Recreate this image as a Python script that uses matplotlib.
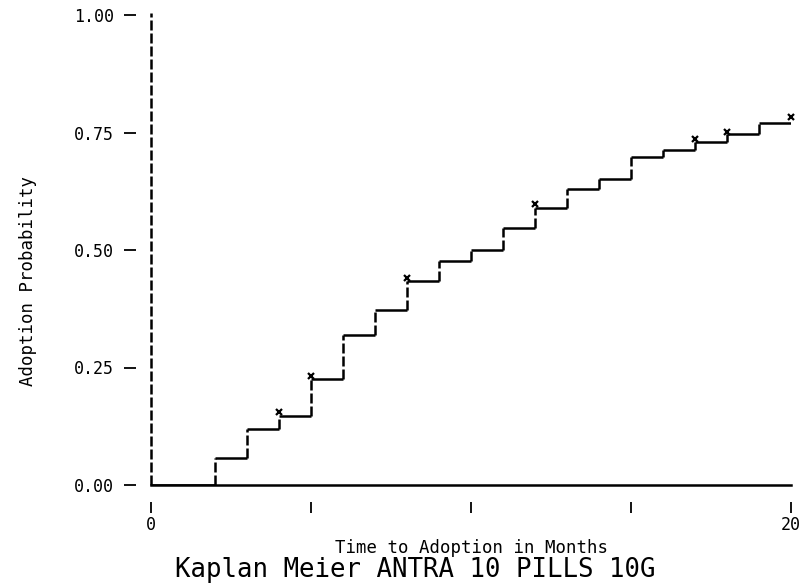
import numpy as np
import matplotlib
matplotlib.use("Agg")
import matplotlib.pyplot as plt

# step data (month, cumulative adoption probability)
times = [0, 2, 3, 4, 5, 6, 7, 8, 9, 10, 11, 12, 13, 14, 15, 16, 17, 18, 19, 20]
adopt = [0.0, 0.058, 0.120, 0.147, 0.225, 0.320, 0.372, 0.434, 0.477, 0.500,
         0.547, 0.589, 0.630, 0.651, 0.698, 0.713, 0.730, 0.747, 0.770]
# censored observations
cens_t = [4, 5, 8, 12, 17, 18, 20]
cens_y = [0.156, 0.232, 0.440, 0.598, 0.737, 0.752, 0.783]

y_ticks = [0.0, 0.25, 0.5, 0.75, 1.0]
y_labels = ["0.00", "0.25", "0.50", "0.75", "1.00"]
x_ticks = [0, 5, 10, 15, 20]
x_labels = ["0", "", "", "", "20"]

plt.rcParams['font.family'] = ['DejaVu Sans Mono']

fig = plt.figure(figsize=(8.05, 5.88), dpi=100)
ax = fig.add_axes([151 / 805, 1 - 485 / 588, 640 / 805, 470 / 588])
ax.set_xlim(0, 20)
ax.set_ylim(0, 1)

# horizontal parts solid, risers dashed like the old plotter output
ax.hlines(adopt, times[:-1], times[1:], colors='black', lw=1.8)
ax.vlines(times[1:-1], adopt[:-1], adopt[1:], colors='black', lw=1.8,
          linestyles=(0, (4, 1.2)))
ax.plot(cens_t, cens_y, ls='none', marker='x', ms=5, mew=1.6, color='black',
        clip_on=False)

# axis lines
ax.axvline(0, ymin=0, ymax=1.005, color='black', lw=1.8, ls=(0, (4, 1.2)), clip_on=False)
ax.axhline(0, color='black', lw=1.8, clip_on=False)

# detached ticks: move invisible spines outward (points at 100 dpi)
for s in ['top', 'right']:
    ax.spines[s].set_visible(False)
ax.spines['left'].set_position(('outward', 11))
ax.spines['bottom'].set_position(('outward', 12))
ax.spines['left'].set_visible(False)
ax.spines['bottom'].set_visible(False)

ax.set_yticks(y_ticks)
ax.set_yticklabels(y_labels)
ax.set_xticks(x_ticks)
ax.set_xticklabels(x_labels)
ax.tick_params(axis='y', length=8.5, width=1.3, pad=7, labelsize=12)
ax.tick_params(axis='x', length=8, width=1.3, pad=2, labelsize=12)

fig.text(471 / 805, 1 - 548 / 588, "Time to Adoption in Months", ha='center', va='center',
         fontsize=12.5)
fig.text(28 / 805, 1 - 281 / 588, "Adoption Probability", ha='center', va='center',
         rotation=90, fontsize=12.5)
fig.text(415 / 805, 1 - 570 / 588, "Kaplan Meier ANTRA 10 PILLS 10G", ha='center', va='center',
         fontsize=18.5)

fig.savefig("out.png", dpi=100)
